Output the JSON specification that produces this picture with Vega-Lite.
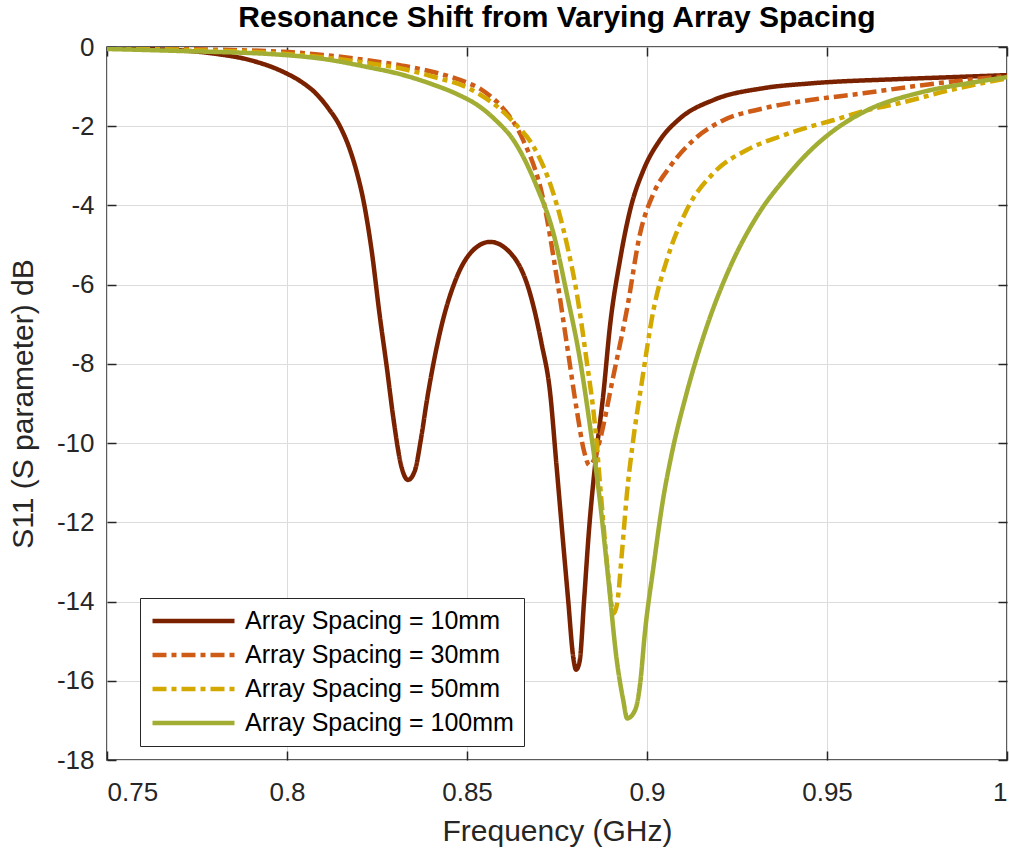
{
  "$schema": "https://vega.github.io/schema/vega-lite/v6.json",
  "autosize": {"type": "none"},
  "width": 900,
  "height": 713,
  "padding": {"left": 107, "top": 47, "right": 2, "bottom": 89},
  "background": "white",
  "config": {
    "font": "Liberation Sans",
    "view": {"stroke": "#262626", "strokeWidth": 1.5},
    "axis": {"labelFont": "Liberation Sans", "titleFont": "Liberation Sans", "labelColor": "#262626", "titleColor": "#262626", "titleFontWeight": "normal", "domain": false, "tickColor": "#262626", "tickWidth": 1.5}
  },
  "title": {"text": "Resonance Shift from Varying Array Spacing", "fontSize": 30, "fontWeight": "bold", "color": "#000000", "anchor": "middle", "baseline": "alphabetic", "offset": -23, "font": "Liberation Sans"},
  "datasets": {"pts": [
    {"f":0.75,"s":-0.03,"series":"Array Spacing = 10mm"},
    {"f":0.76,"s":-0.05,"series":"Array Spacing = 10mm"},
    {"f":0.77,"s":-0.08,"series":"Array Spacing = 10mm"},
    {"f":0.78,"s":-0.17,"series":"Array Spacing = 10mm"},
    {"f":0.7897,"s":-0.33,"series":"Array Spacing = 10mm"},
    {"f":0.799,"s":-0.63,"series":"Array Spacing = 10mm"},
    {"f":0.804,"s":-0.88,"series":"Array Spacing = 10mm"},
    {"f":0.808,"s":-1.17,"series":"Array Spacing = 10mm"},
    {"f":0.8115,"s":-1.55,"series":"Array Spacing = 10mm"},
    {"f":0.8147,"s":-2.0,"series":"Array Spacing = 10mm"},
    {"f":0.8175,"s":-2.6,"series":"Array Spacing = 10mm"},
    {"f":0.8195,"s":-3.2,"series":"Array Spacing = 10mm"},
    {"f":0.8212,"s":-3.86,"series":"Array Spacing = 10mm"},
    {"f":0.8235,"s":-5.13,"series":"Array Spacing = 10mm"},
    {"f":0.8258,"s":-6.81,"series":"Array Spacing = 10mm"},
    {"f":0.8277,"s":-8.07,"series":"Array Spacing = 10mm"},
    {"f":0.8295,"s":-9.34,"series":"Array Spacing = 10mm"},
    {"f":0.8318,"s":-10.6,"series":"Array Spacing = 10mm"},
    {"f":0.8336,"s":-10.93,"series":"Array Spacing = 10mm"},
    {"f":0.8355,"s":-10.7,"series":"Array Spacing = 10mm"},
    {"f":0.8372,"s":-9.9,"series":"Array Spacing = 10mm"},
    {"f":0.8389,"s":-8.9,"series":"Array Spacing = 10mm"},
    {"f":0.8425,"s":-7.2,"series":"Array Spacing = 10mm"},
    {"f":0.8472,"s":-5.8,"series":"Array Spacing = 10mm"},
    {"f":0.8517,"s":-5.13,"series":"Array Spacing = 10mm"},
    {"f":0.8564,"s":-4.92,"series":"Array Spacing = 10mm"},
    {"f":0.8629,"s":-5.29,"series":"Array Spacing = 10mm"},
    {"f":0.8675,"s":-6.22,"series":"Array Spacing = 10mm"},
    {"f":0.8707,"s":-7.48,"series":"Array Spacing = 10mm"},
    {"f":0.8731,"s":-8.74,"series":"Array Spacing = 10mm"},
    {"f":0.8748,"s":-10.5,"series":"Array Spacing = 10mm"},
    {"f":0.8765,"s":-12.3,"series":"Array Spacing = 10mm"},
    {"f":0.8781,"s":-13.96,"series":"Array Spacing = 10mm"},
    {"f":0.8795,"s":-15.4,"series":"Array Spacing = 10mm"},
    {"f":0.8803,"s":-15.72,"series":"Array Spacing = 10mm"},
    {"f":0.8813,"s":-15.5,"series":"Array Spacing = 10mm"},
    {"f":0.8825,"s":-14.0,"series":"Array Spacing = 10mm"},
    {"f":0.8838,"s":-12.3,"series":"Array Spacing = 10mm"},
    {"f":0.886,"s":-10.2,"series":"Array Spacing = 10mm"},
    {"f":0.8879,"s":-8.74,"series":"Array Spacing = 10mm"},
    {"f":0.8897,"s":-7.06,"series":"Array Spacing = 10mm"},
    {"f":0.8925,"s":-5.38,"series":"Array Spacing = 10mm"},
    {"f":0.8953,"s":-4.12,"series":"Array Spacing = 10mm"},
    {"f":0.899,"s":-3.11,"series":"Array Spacing = 10mm"},
    {"f":0.9036,"s":-2.35,"series":"Array Spacing = 10mm"},
    {"f":0.9092,"s":-1.8,"series":"Array Spacing = 10mm"},
    {"f":0.9184,"s":-1.34,"series":"Array Spacing = 10mm"},
    {"f":0.9323,"s":-1.04,"series":"Array Spacing = 10mm"},
    {"f":0.9453,"s":-0.92,"series":"Array Spacing = 10mm"},
    {"f":0.97,"s":-0.81,"series":"Array Spacing = 10mm"},
    {"f":0.985,"s":-0.76,"series":"Array Spacing = 10mm"},
    {"f":1.0,"s":-0.71,"series":"Array Spacing = 10mm"},

    {"f":0.75,"s":0.0,"series":"Array Spacing = 30mm"},
    {"f":0.77,"s":-0.05,"series":"Array Spacing = 30mm"},
    {"f":0.799,"s":-0.12,"series":"Array Spacing = 30mm"},
    {"f":0.81,"s":-0.2,"series":"Array Spacing = 30mm"},
    {"f":0.822,"s":-0.33,"series":"Array Spacing = 30mm"},
    {"f":0.832,"s":-0.47,"series":"Array Spacing = 30mm"},
    {"f":0.8406,"s":-0.63,"series":"Array Spacing = 30mm"},
    {"f":0.85,"s":-0.9,"series":"Array Spacing = 30mm"},
    {"f":0.8536,"s":-1.05,"series":"Array Spacing = 30mm"},
    {"f":0.857,"s":-1.28,"series":"Array Spacing = 30mm"},
    {"f":0.8605,"s":-1.6,"series":"Array Spacing = 30mm"},
    {"f":0.8656,"s":-2.35,"series":"Array Spacing = 30mm"},
    {"f":0.8712,"s":-3.86,"series":"Array Spacing = 30mm"},
    {"f":0.8749,"s":-5.8,"series":"Array Spacing = 30mm"},
    {"f":0.8777,"s":-7.48,"series":"Array Spacing = 30mm"},
    {"f":0.8805,"s":-9.17,"series":"Array Spacing = 30mm"},
    {"f":0.8825,"s":-10.2,"series":"Array Spacing = 30mm"},
    {"f":0.884,"s":-10.56,"series":"Array Spacing = 30mm"},
    {"f":0.8858,"s":-10.3,"series":"Array Spacing = 30mm"},
    {"f":0.887,"s":-9.9,"series":"Array Spacing = 30mm"},
    {"f":0.8906,"s":-8.33,"series":"Array Spacing = 30mm"},
    {"f":0.8944,"s":-6.64,"series":"Array Spacing = 30mm"},
    {"f":0.8981,"s":-4.7,"series":"Array Spacing = 30mm"},
    {"f":0.9018,"s":-3.7,"series":"Array Spacing = 30mm"},
    {"f":0.9064,"s":-3.02,"series":"Array Spacing = 30mm"},
    {"f":0.9129,"s":-2.35,"series":"Array Spacing = 30mm"},
    {"f":0.9203,"s":-1.89,"series":"Array Spacing = 30mm"},
    {"f":0.9323,"s":-1.55,"series":"Array Spacing = 30mm"},
    {"f":0.9453,"s":-1.34,"series":"Array Spacing = 30mm"},
    {"f":0.96,"s":-1.17,"series":"Array Spacing = 30mm"},
    {"f":0.975,"s":-0.98,"series":"Array Spacing = 30mm"},
    {"f":0.99,"s":-0.82,"series":"Array Spacing = 30mm"},
    {"f":1.0,"s":-0.73,"series":"Array Spacing = 30mm"},

    {"f":0.75,"s":-0.02,"series":"Array Spacing = 50mm"},
    {"f":0.77,"s":-0.07,"series":"Array Spacing = 50mm"},
    {"f":0.799,"s":-0.17,"series":"Array Spacing = 50mm"},
    {"f":0.81,"s":-0.26,"series":"Array Spacing = 50mm"},
    {"f":0.822,"s":-0.4,"series":"Array Spacing = 50mm"},
    {"f":0.832,"s":-0.55,"series":"Array Spacing = 50mm"},
    {"f":0.8406,"s":-0.75,"series":"Array Spacing = 50mm"},
    {"f":0.85,"s":-1.02,"series":"Array Spacing = 50mm"},
    {"f":0.8536,"s":-1.2,"series":"Array Spacing = 50mm"},
    {"f":0.859,"s":-1.55,"series":"Array Spacing = 50mm"},
    {"f":0.8635,"s":-1.95,"series":"Array Spacing = 50mm"},
    {"f":0.8684,"s":-2.5,"series":"Array Spacing = 50mm"},
    {"f":0.874,"s":-3.7,"series":"Array Spacing = 50mm"},
    {"f":0.8777,"s":-4.96,"series":"Array Spacing = 50mm"},
    {"f":0.8805,"s":-6.22,"series":"Array Spacing = 50mm"},
    {"f":0.8832,"s":-7.9,"series":"Array Spacing = 50mm"},
    {"f":0.8856,"s":-9.59,"series":"Array Spacing = 50mm"},
    {"f":0.8872,"s":-11.3,"series":"Array Spacing = 50mm"},
    {"f":0.8893,"s":-13.4,"series":"Array Spacing = 50mm"},
    {"f":0.8907,"s":-14.3,"series":"Array Spacing = 50mm"},
    {"f":0.8917,"s":-14.05,"series":"Array Spacing = 50mm"},
    {"f":0.8931,"s":-12.7,"series":"Array Spacing = 50mm"},
    {"f":0.8944,"s":-11.3,"series":"Array Spacing = 50mm"},
    {"f":0.8962,"s":-9.9,"series":"Array Spacing = 50mm"},
    {"f":0.8985,"s":-8.5,"series":"Array Spacing = 50mm"},
    {"f":0.9018,"s":-6.64,"series":"Array Spacing = 50mm"},
    {"f":0.9055,"s":-5.38,"series":"Array Spacing = 50mm"},
    {"f":0.911,"s":-4.12,"series":"Array Spacing = 50mm"},
    {"f":0.9184,"s":-3.19,"series":"Array Spacing = 50mm"},
    {"f":0.9277,"s":-2.6,"series":"Array Spacing = 50mm"},
    {"f":0.9369,"s":-2.26,"series":"Array Spacing = 50mm"},
    {"f":0.9453,"s":-2.01,"series":"Array Spacing = 50mm"},
    {"f":0.9517,"s":-1.85,"series":"Array Spacing = 50mm"},
    {"f":0.96,"s":-1.62,"series":"Array Spacing = 50mm"},
    {"f":0.97,"s":-1.42,"series":"Array Spacing = 50mm"},
    {"f":0.9842,"s":-1.09,"series":"Array Spacing = 50mm"},
    {"f":1.0,"s":-0.79,"series":"Array Spacing = 50mm"},

    {"f":0.75,"s":-0.05,"series":"Array Spacing = 100mm"},
    {"f":0.77,"s":-0.1,"series":"Array Spacing = 100mm"},
    {"f":0.799,"s":-0.2,"series":"Array Spacing = 100mm"},
    {"f":0.81,"s":-0.3,"series":"Array Spacing = 100mm"},
    {"f":0.822,"s":-0.5,"series":"Array Spacing = 100mm"},
    {"f":0.832,"s":-0.7,"series":"Array Spacing = 100mm"},
    {"f":0.8406,"s":-0.95,"series":"Array Spacing = 100mm"},
    {"f":0.847,"s":-1.18,"series":"Array Spacing = 100mm"},
    {"f":0.8536,"s":-1.51,"series":"Array Spacing = 100mm"},
    {"f":0.858,"s":-1.85,"series":"Array Spacing = 100mm"},
    {"f":0.8629,"s":-2.35,"series":"Array Spacing = 100mm"},
    {"f":0.8694,"s":-3.53,"series":"Array Spacing = 100mm"},
    {"f":0.874,"s":-4.7,"series":"Array Spacing = 100mm"},
    {"f":0.8777,"s":-6.22,"series":"Array Spacing = 100mm"},
    {"f":0.8814,"s":-7.9,"series":"Array Spacing = 100mm"},
    {"f":0.8842,"s":-9.59,"series":"Array Spacing = 100mm"},
    {"f":0.8869,"s":-11.44,"series":"Array Spacing = 100mm"},
    {"f":0.8892,"s":-13.38,"series":"Array Spacing = 100mm"},
    {"f":0.8916,"s":-15.48,"series":"Array Spacing = 100mm"},
    {"f":0.8934,"s":-16.49,"series":"Array Spacing = 100mm"},
    {"f":0.8945,"s":-16.95,"series":"Array Spacing = 100mm"},
    {"f":0.8967,"s":-16.74,"series":"Array Spacing = 100mm"},
    {"f":0.8981,"s":-16.07,"series":"Array Spacing = 100mm"},
    {"f":0.8994,"s":-14.8,"series":"Array Spacing = 100mm"},
    {"f":0.9018,"s":-13.12,"series":"Array Spacing = 100mm"},
    {"f":0.9045,"s":-11.4,"series":"Array Spacing = 100mm"},
    {"f":0.9068,"s":-10.3,"series":"Array Spacing = 100mm"},
    {"f":0.911,"s":-8.74,"series":"Array Spacing = 100mm"},
    {"f":0.9166,"s":-7.06,"series":"Array Spacing = 100mm"},
    {"f":0.9231,"s":-5.55,"series":"Array Spacing = 100mm"},
    {"f":0.9305,"s":-4.28,"series":"Array Spacing = 100mm"},
    {"f":0.9388,"s":-3.27,"series":"Array Spacing = 100mm"},
    {"f":0.9453,"s":-2.62,"series":"Array Spacing = 100mm"},
    {"f":0.9517,"s":-2.12,"series":"Array Spacing = 100mm"},
    {"f":0.9611,"s":-1.6,"series":"Array Spacing = 100mm"},
    {"f":0.975,"s":-1.17,"series":"Array Spacing = 100mm"},
    {"f":0.9889,"s":-0.92,"series":"Array Spacing = 100mm"},
    {"f":1.0,"s":-0.76,"series":"Array Spacing = 100mm"}
  ]},
  "data": {"name": "pts"},
  "layer": [
    {
      "mark": {"type": "line", "strokeWidth": 4.5, "interpolate": "monotone", "clip": true},
      "encoding": {
        "x": {"field": "f", "type": "quantitative", "scale": {"domain": [0.75, 1.0], "nice": false, "zero": false},
              "axis": {"title": "Frequency (GHz)", "values": [0.75, 0.8, 0.85, 0.9, 0.95, 1.0], "format": ".2~f", "labelFontSize": 26, "titleFontSize": 30, "tickSize": -9, "labelPadding": 28, "titlePadding": 11, "grid": true, "gridColor": "#dcdcdc", "gridWidth": 1}},
        "y": {"field": "s", "type": "quantitative", "scale": {"domain": [-18, 0], "nice": false, "zero": false},
              "axis": {"title": "S11 (S parameter) dB", "values": [0, -2, -4, -6, -8, -10, -12, -14, -16, -18], "labelExpr": "'' + datum.value", "labelFontSize": 26, "titleFontSize": 30, "tickSize": -9, "labelPadding": 22, "titlePadding": 18, "grid": true, "gridColor": "#dcdcdc", "gridWidth": 1}},
        "color": {"field": "series", "type": "nominal",
                  "scale": {"domain": ["Array Spacing = 10mm", "Array Spacing = 30mm", "Array Spacing = 50mm", "Array Spacing = 100mm"], "range": ["#7A2100", "#CE5C17", "#D3A900", "#A2AD33"]},
                  "legend": {"title": null, "orient": "none", "legendX": 33, "legendY": 551, "symbolType": "stroke", "symbolStrokeWidth": 4.5, "symbolSize": 6724, "clipHeight": 26, "labelFontSize": 25, "labelFont": "Liberation Sans", "labelColor": "#000000", "labelOffset": 8, "rowPadding": 8, "strokeColor": "#262626", "fillColor": "white", "padding": 10, "labelLimit": 400}},
        "strokeDash": {"field": "series", "type": "nominal",
                  "scale": {"domain": ["Array Spacing = 10mm", "Array Spacing = 30mm", "Array Spacing = 50mm", "Array Spacing = 100mm"], "range": [[1, 0], [14, 5, 5, 5], [14, 5, 5, 5], [1, 0]]},
                  "legend": {"title": null, "orient": "none", "legendX": 33, "legendY": 551, "symbolType": "stroke", "symbolStrokeWidth": 4.5, "symbolSize": 6724, "clipHeight": 26, "labelFontSize": 25, "labelFont": "Liberation Sans", "labelColor": "#000000", "labelOffset": 8, "rowPadding": 8, "strokeColor": "#262626", "fillColor": "white", "padding": 10, "labelLimit": 400}}
      }
    },
    {
      "mark": {"type": "line", "strokeOpacity": 0, "strokeWidth": 0},
      "encoding": {
        "x": {"field": "f", "type": "quantitative", "axis": {"orient": "top", "title": null, "labels": false, "grid": false, "values": [0.75, 0.8, 0.85, 0.9, 0.95, 1.0], "tickSize": -9}},
        "y": {"field": "s", "type": "quantitative", "axis": {"orient": "right", "title": null, "labels": false, "grid": false, "values": [0, -2, -4, -6, -8, -10, -12, -14, -16, -18], "tickSize": -9}}
      }
    }
  ],
  "resolve": {"axis": {"x": "independent", "y": "independent"}}
}
